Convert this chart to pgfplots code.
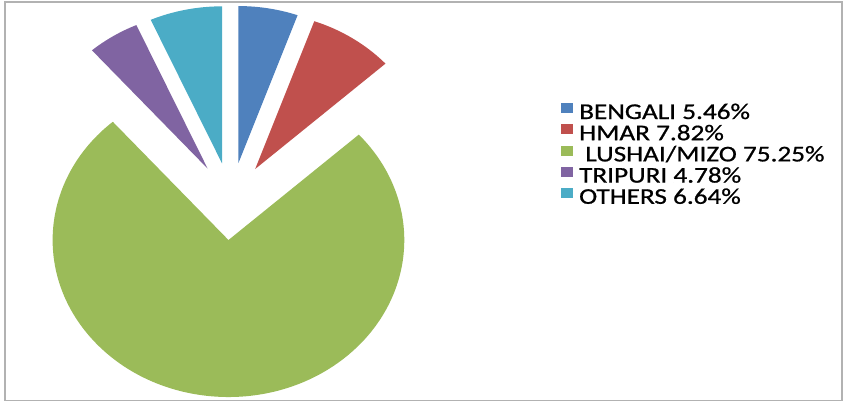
\documentclass[border=0pt]{standalone}
\usepackage{pgfplots}
\usepackage{pgfplotstable}
\usepackage{graphicx}
\pgfplotsset{compat=1.18}
\usepackage{fontspec}
\setmainfont{Carlito}
\newfontfamily\legfont{Carlito}[FakeBold=0.7]
\definecolor{pie0}{HTML}{4F81BD}
\definecolor{pie1}{HTML}{C0504D}
\definecolor{pie2}{HTML}{9BBB59}
\definecolor{pie3}{HTML}{8064A2}
\definecolor{pie4}{HTML}{4BACC6}
\begin{document}%
\pgfplotstableread{
label value
BENGALI 5.46
HMAR 7.82
LUSHAI 75.25
TRIPURI 4.78
OTHERS 6.64
}\piedata%
\def\pcx{231}\def\pcy{201.7}\def\pR{157}\def\psx{1.12}\def\pe{38.8}\def\ptot{99.95}%
\pgfmathsetmacro\pfac{360/\ptot}%
\gdef\pcum{0}%
\pgfplotsforeachungrouped \i in {0,...,4}{%
 \pgfplotstablegetelem{\i}{value}\of\piedata%
 \let\pval\pgfplotsretval%
 \pgfmathsetmacro\aE{90-\pfac*\pcum}%
 \pgfmathsetmacro\aS{90-\pfac*(\pcum+\pval)}%
 \pgfmathsetmacro\aM{(\aS+\aE)/2}%
 \pgfmathsetmacro\pvx{\pcx+\pe*\psx*cos(\aM)}%
 \pgfmathsetmacro\pvy{\pcy+\pe*sin(\aM)}%
 \pgfmathsetmacro\psxx{\pvx+\pR*\psx*cos(\aS)}%
 \pgfmathsetmacro\psyy{\pvy+\pR*sin(\aS)}%
 \expandafter\xdef\csname pieVX\i\endcsname{\pvx}%
 \expandafter\xdef\csname pieVY\i\endcsname{\pvy}%
 \expandafter\xdef\csname pieSX\i\endcsname{\psxx}%
 \expandafter\xdef\csname pieSY\i\endcsname{\psyy}%
 \expandafter\xdef\csname pieS\i\endcsname{\aS}%
 \expandafter\xdef\csname pieE\i\endcsname{\aE}%
 \pgfmathsetmacro\pcum{\pcum+\pval}\xdef\pcum{\pcum}%
}%
\pgfmathsetmacro\pRx{\pR*\psx}%
\begin{tikzpicture}
\begin{axis}[
  x=1pt, y=1pt, scale only axis, hide axis, clip=false,
  xmin=0, xmax=845, ymin=0, ymax=403,
  legend image code/.code={\fill[#1] (0pt,1.5pt) rectangle (11.5pt,11.5pt); \path (18pt,0pt);},
  legend cell align=left,
  legend style={at={(0.6639,0.7444)}, anchor=north west, draw=none, fill=none,
    inner sep=0pt, row sep=0pt, text=black,
    font=\legfont\fontsize{22.5}{26}\selectfont,
    nodes={inner sep=0pt, text height=14pt, text depth=5.4pt}},
]
\path (axis cs:0,0) rectangle (axis cs:845,403);
\draw[gray!60, line width=1.6pt] (axis cs:5,2.5) rectangle (axis cs:842,401);
\pgfplotsinvokeforeach{0,...,4}{
  \fill[pie#1] (axis cs:\csname pieVX#1\endcsname,\csname pieVY#1\endcsname)
    -- (axis cs:\csname pieSX#1\endcsname,\csname pieSY#1\endcsname)
    arc[start angle=\csname pieS#1\endcsname, end angle=\csname pieE#1\endcsname,
        x radius=\pRx pt, y radius=\pR pt] -- cycle;
}
\addlegendimage{fill=pie0,draw=none}\addlegendentry{\scalebox{1.21}[1]{BENGALI 5.46\%}}
\addlegendimage{fill=pie1,draw=none}\addlegendentry{\scalebox{1.21}[1]{HMAR 7.82\%}}
\addlegendimage{fill=pie2,draw=none}\addlegendentry{\scalebox{1.21}[1]{\ LUSHAI/MIZO 75.25\%}}
\addlegendimage{fill=pie3,draw=none}\addlegendentry{\scalebox{1.21}[1]{TRIPURI 4.78\%}}
\addlegendimage{fill=pie4,draw=none}\addlegendentry{\scalebox{1.21}[1]{OTHERS 6.64\%}}
\end{axis}
\end{tikzpicture}%
\end{document}
